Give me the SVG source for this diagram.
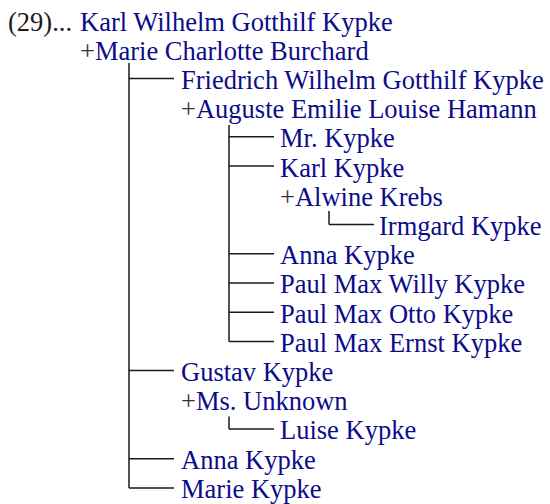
<svg xmlns="http://www.w3.org/2000/svg" width="550" height="504" viewBox="0 0 550 504">
<style>
text{font-family:"Liberation Serif","Times New Roman",serif;font-size:26.5px;fill:#0c0c8a}
.k{fill:#1a1a1a}
.p{fill:#333333}
.c line{stroke:#1a1a1a;stroke-width:1.5;fill:none}
</style>
<rect width="550" height="504" fill="#ffffff"/>
<g class="c" id="connectors">
<line x1="129" y1="63" x2="129" y2="488"/>
<line x1="129" y1="78.4" x2="174" y2="78.4"/>
<line x1="129" y1="370.6" x2="174" y2="370.6"/>
<line x1="129" y1="458.8" x2="174" y2="458.8"/>
<line x1="129" y1="488" x2="174" y2="488"/>
<line x1="229" y1="125" x2="229" y2="341.4"/>
<line x1="229" y1="136.8" x2="274" y2="136.8"/>
<line x1="229" y1="166" x2="274" y2="166"/>
<line x1="229" y1="253.8" x2="274" y2="253.8"/>
<line x1="229" y1="283" x2="274" y2="283"/>
<line x1="229" y1="312.2" x2="274" y2="312.2"/>
<line x1="229" y1="341.4" x2="274" y2="341.4"/>
<line x1="329" y1="211" x2="329" y2="224.6"/>
<line x1="329" y1="224.6" x2="374" y2="224.6"/>
<line x1="229" y1="416.5" x2="229" y2="429"/>
<line x1="229" y1="429" x2="274" y2="429"/>
</g>
<g id="n0"><text x="8" y="30.5" class="k">(29)... </text><text x="80" y="30.5">Karl Wilhelm Gotthilf Kypke</text></g>
<g id="n1"><text x="80" y="59.7"><tspan class="p">+</tspan>Marie Charlotte Burchard</text></g>
<g id="n2"><text x="181" y="88.9">Friedrich Wilhelm Gotthilf Kypke</text></g>
<g id="n3"><text x="181" y="118.1"><tspan class="p">+</tspan>Auguste Emilie Louise Hamann</text></g>
<g id="n4"><text x="280" y="147.3">Mr. Kypke</text></g>
<g id="n5"><text x="280" y="176.5">Karl Kypke</text></g>
<g id="n6"><text x="280" y="205.7"><tspan class="p">+</tspan>Alwine Krebs</text></g>
<g id="n7"><text x="379" y="234.9">Irmgard Kypke</text></g>
<g id="n8"><text x="280" y="264.1">Anna Kypke</text></g>
<g id="n9"><text x="280" y="293.3">Paul Max Willy Kypke</text></g>
<g id="n10"><text x="280" y="322.5">Paul Max Otto Kypke</text></g>
<g id="n11"><text x="280" y="351.7">Paul Max Ernst Kypke</text></g>
<g id="n12"><text x="181" y="380.9">Gustav Kypke</text></g>
<g id="n13"><text x="181" y="410.1"><tspan class="p">+</tspan>Ms. Unknown</text></g>
<g id="n14"><text x="280" y="439.3">Luise Kypke</text></g>
<g id="n15"><text x="181" y="468.5">Anna Kypke</text></g>
<g id="n16"><text x="181" y="497.7">Marie Kypke</text></g>
</svg>
